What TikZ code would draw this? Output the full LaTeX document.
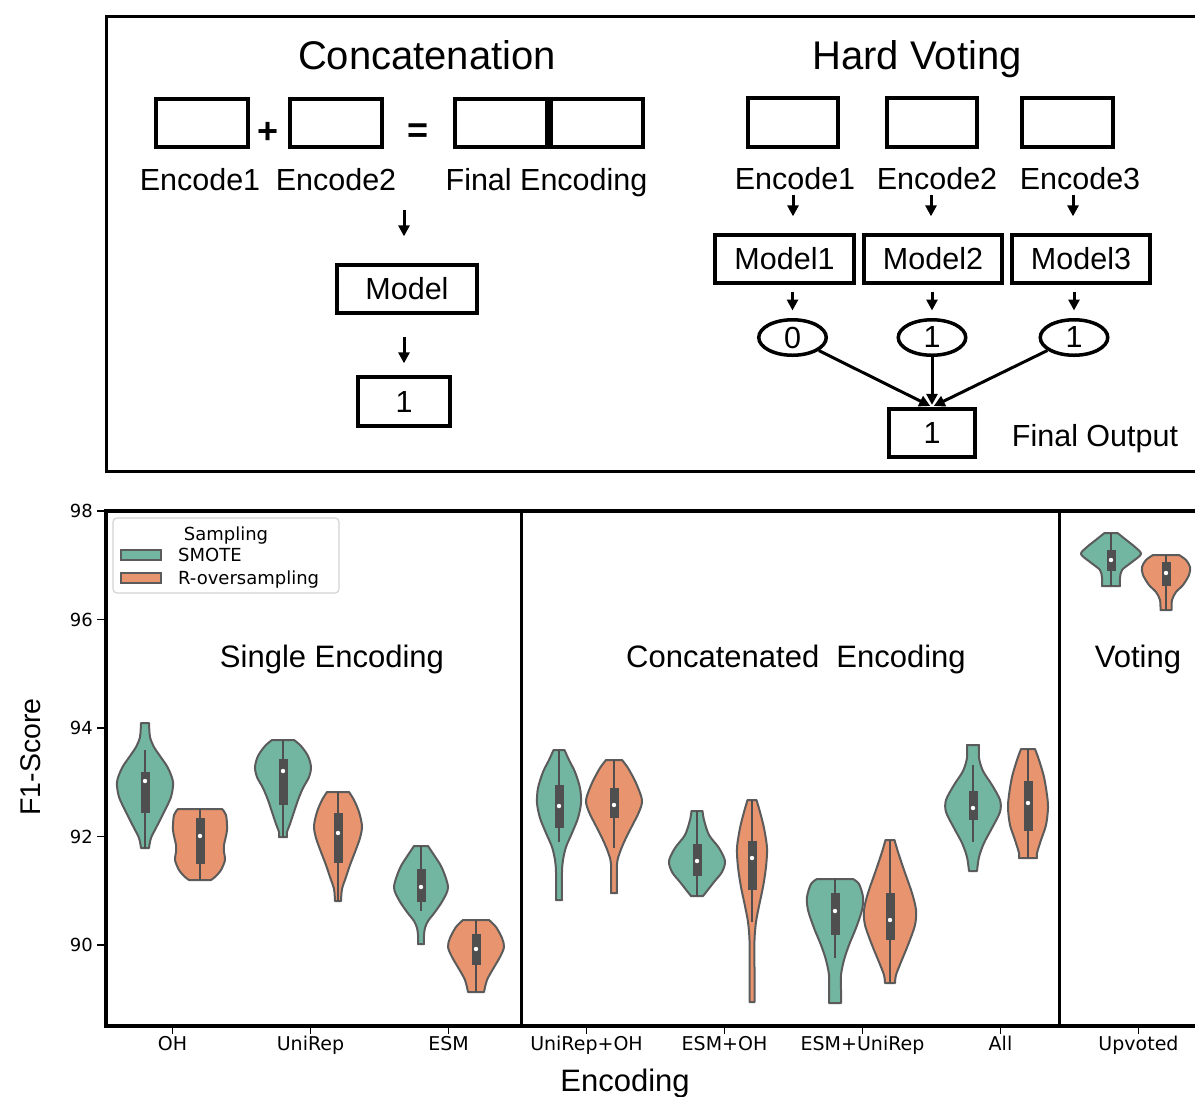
\documentclass[tikz,border=0pt]{standalone}
\usepackage{fontspec}
\setmainfont{Liberation Sans}
\newfontfamily\djv{DejaVu Sans}
\usetikzlibrary{arrows.meta,shapes.geometric}

\definecolor{vgreen}{HTML}{72B6A1}
\definecolor{vorange}{HTML}{E8956F}
\definecolor{vedge}{HTML}{5B5B5B}
\definecolor{vbox}{HTML}{4F4F4F}
\definecolor{leggray}{HTML}{D3D3D3}

\newcommand{\fsz}[1]{\fontsize{#1}{#1}\selectfont}

% violin: centre x, fill colour, top y, bottom y, right-hand profile (half width, y)
\newcommand{\violin}[5]{%
  \begin{scope}[shift={(#1,0)}]
    \foreach \s in {1,-1}{%
      \fill[#2, xscale=\s] (-1,#3) -- plot[smooth] coordinates {#5} -- (-1,#4) -- cycle;
    }
    \foreach \s in {1,-1}{%
      \draw[vedge, line width=2, line join=round, xscale=\s]
        (0,#3) -- plot[smooth] coordinates {#5} -- (0,#4);
    }
  \end{scope}}
% inner box: centre x, whisker top, whisker bottom, q3, q1, median
\newcommand{\vbx}[6]{%
  \draw[vbox, line width=2] (#1,#2) -- (#1,#3);
  \fill[vbox] (#1-4.5,#4) rectangle (#1+4.5,#5);
  \fill[white] (#1,#6) circle (2.2pt);}

\tikzset{
  frame/.style={line width=3},
  ebox/.style={draw, line width=3.8, inner sep=0, minimum width=92.5, minimum height=48.5, font=\fsz{30.5}},
  oval/.style={ellipse, draw, line width=3.5, inner sep=0, minimum width=67.5, minimum height=35.5, font=\fsz{30.5}},
  arr/.style={line width=3, -{Triangle[length=11pt,width=11pt]}},
  lbl/.style={inner sep=0, anchor=base, font=\fsz{30.5}},
  sym/.style={inner sep=0, font=\bfseries\fsz{36}},
  ttl/.style={inner sep=0, anchor=base, font=\fsz{40}},
  grp/.style={inner sep=0, anchor=base, font=\fsz{31}},
  tick/.style={line width=1.5},
  xtl/.style={inner sep=0, anchor=base, font=\djv\fsz{19}},
  ytl/.style={inner sep=0, anchor=east, font=\djv\fsz{18}},
  legt/.style={inner sep=0, anchor=base west, font=\djv\fsz{18}},
  patch/.style={draw=vedge, line width=1.5},
}

\begin{document}
\begin{tikzpicture}[x=1pt,y=-1pt]
\useasboundingbox (0,0) rectangle (1195,1096);
\fill[white] (0,0) rectangle (1195,1096);

% ---------------- schematic panel ----------------
\draw[frame] (106,16) rectangle (1215,471);

\node[ttl] (tcat) at (427,69) {Concatenation};
\node[ttl] (thv) at (917,69) {Hard Voting};

% concatenation
\node[ebox] (ce1) at (202,123) {};
\node[sym] (cplus) at (268,133) {+};
\node[ebox] (ce2) at (336,123) {};
\node[sym] (ceq) at (418,133) {=};
\node[ebox, minimum width=188.5] (cfin) at (549,123) {};
\draw[line width=8] (cfin.north) -- (cfin.south);
\node[lbl] (cl1) at (200,190) {Encode1};
\node[lbl] (cl2) at (336,190) {Encode2};
\node[lbl] (cl3) at (546.5,190) {Final Encoding};

\node[ebox, minimum width=140.5] (cmodel) at (407,289) {Model};
\node[ebox, minimum height=49.5] (cres) at (404,401.5) {1};

\coordinate (ca1) at (404,210);
\draw[arr, shorten >=26.5] (ca1) -- (ca1 |- cmodel.north);
\coordinate (ca2) at (404,337);
\draw[arr, shorten >=11.5] (ca2) -- (ca2 |- cres.north);

% hard voting
\node[ebox, minimum width=90.5] (he1) at (793,122.5) {};
\node[ebox, minimum width=90.5] (he2) at (932,122.5) {};
\node[ebox, minimum width=91.5] (he3) at (1067.5,122.5) {};
\node[lbl] (hl1) at (795,189) {Encode1};
\node[lbl] (hl2) at (937,189) {Encode2};
\node[lbl] (hl3) at (1080,189) {Encode3};

\node[ebox, minimum width=139.5] (hm1) at (784.5,259) {Model1};
\node[ebox, minimum width=138.5] (hm2) at (933,259) {Model2};
\node[ebox, minimum width=138.5] (hm3) at (1081,259) {Model3};

\coordinate (hs1) at (793,195);
\coordinate (hs2) at (931,195);
\coordinate (hs3) at (1073,195);
\draw[arr, shorten >=16.5] (hs1) -- (hs1 |- hm1.north);
\draw[arr, shorten >=16.5] (hs2) -- (hs2 |- hm2.north);
\draw[arr, shorten >=16.5] (hs3) -- (hs3 |- hm3.north);

\node[oval] (ov0) at (792.5,337.5) {0};
\node[oval] (ov1) at (932,337.5) {1};
\node[oval] (ov2) at (1074,337.5) {1};

\draw[arr, shorten <=6.5, shorten >=7.5] (hm1.south -| ov0.north) -- (ov0.north);
\draw[arr, shorten <=6.5, shorten >=7.5] (hm2.south -| ov1.north) -- (ov1.north);
\draw[arr, shorten <=6.5, shorten >=7.5] (hm3.south -| ov2.north) -- (ov2.north);

\node[ebox, minimum width=85.5] (fin) at (932,433) {1};
\node[lbl] (fout) at (1095,446) {Final Output};

\draw[arr, shorten >=2] (ov0) -- (fin.north);
\draw[arr, shorten >=2] (ov1) -- (fin.north);
\draw[arr, shorten >=2] (ov2) -- (fin.north);

% ---------------- violin panel ----------------
\violin{145}{vgreen}{723}{848}{(4,723) (5,737) (9,747) (15,756) (23,768) (28,782) (26,797) (19,812) (12,826) (6,838) (4,848)}
\vbx{145}{750}{848}{772}{813}{781}
\violin{200}{vorange}{809}{880}{(22,809) (26,815) (27,830) (24,845) (24,852) (25,860) (21,870) (15,877) (11,880)}
\vbx{200}{809}{880}{818}{864}{836}

\violin{283}{vgreen}{740}{837}{(11,740) (18,746) (25,756) (28,767) (26,777) (20,788) (15,800) (11,812) (7,824) (4,832) (4,837)}
\vbx{283}{740}{837}{759}{805}{771}
\violin{338}{vorange}{792}{901}{(11,792) (16,800) (21,812) (24,826) (22,838) (17,852) (12,865) (8,877) (4,889) (3,901)}
\vbx{338}{792}{901}{813}{863}{833}

\violin{421}{vgreen}{846}{944}{(7,846) (13,855) (21,868) (27,887) (22,900) (14,912) (7,921) (4,928) (3,935) (3,944)}
\vbx{421}{846}{911}{869}{902}{887}
\violin{476}{vorange}{920}{992}{(13,920) (20,927) (26,938) (28,947) (24,957) (17,969) (11,980) (8,992)}
\vbx{476}{920}{992}{934}{965}{949}

\violin{559}{vgreen}{750}{900}{(5.5,750) (10,760) (16,772) (21,788) (22,803) (19,818) (13,833) (7,847) (4,860) (3,872) (3,900)}
\vbx{559}{750}{842}{785}{828}{806}
\violin{614}{vorange}{760}{893}{(8,760) (14,768) (22,783) (28,800) (25,812) (18,826) (11,840) (6,852) (3,864) (3,893)}
\vbx{614}{760}{848}{788}{818}{805}

\violin{697}{vgreen}{811}{896}{(5.5,811) (7,820) (12,835) (22,848) (28,861) (25,872) (17,882) (10,891) (6,896)}
\vbx{697}{811}{896}{844}{876}{861}
\violin{752}{vorange}{800}{1002}{(4.5,800) (8,812) (12,828) (15,848) (14,867) (11,887) (7,906) (4,922) (2.5,940) (2.5,970) (2.5,1002)}
\vbx{752}{800}{922}{841}{890}{858}

\violin{835}{vgreen}{879}{1003}{(18,879) (24,884) (28,897) (27,910) (21,928) (14,945) (9,960) (6,975) (6,990) (6,1003)}
\vbx{835}{879}{958}{893}{935}{911}
\violin{890}{vorange}{840}{983}{(4.5,840) (8,852) (14,870) (22,893) (26,910) (25,925) (18,945) (11,962) (6,975) (5,983)}
\vbx{890}{840}{983}{893}{940}{920}

\violin{973}{vgreen}{745}{871}{(6,745) (6,758) (10,771) (19,785) (27,800) (27,812) (19,828) (11,843) (6,857) (4,871)}
\vbx{973}{765}{842}{791}{820}{808}
\violin{1028}{vorange}{749}{858}{(7,749) (11,760) (16,777) (19,795) (20,808) (18,825) (13,840) (9,853) (9,858)}
\vbx{1028}{749}{858}{781}{831}{803}

\violin{1111}{vgreen}{533}{586}{(6.5,533) (14,539) (24,547) (30,554) (21,562) (11,570) (9,578) (9,586)}
\vbx{1111}{533}{586}{550}{571}{560}
\violin{1166}{vorange}{555}{610}{(13,555) (20,560) (24,567) (23,575) (17,585) (10,592) (6,600) (5.5,610)}
\vbx{1166}{555}{610}{562}{586}{573}

% axes frame and group separators
\draw[line width=4] (104,511) -- (1215,511);
\draw[line width=4] (104,1026) -- (1215,1026);
\draw[line width=4] (106,509) -- (106,1028);
\draw[line width=3] (521,511) -- (521,1026);
\draw[line width=3] (1059,511) -- (1059,1026);

% y axis
\foreach \v/\yy in {98/511,96/619.5,94/728,92/836.5,90/945}{
  \draw[tick] (97,\yy) -- (105,\yy);
  \node[ytl] (yt\v) at (93,\yy) {\v};
}
\node[inner sep=0, rotate=90, font=\fsz{28.5}] (ylab) at (31,757) {F1-Score};

% x axis
\foreach \xx/\t [count=\i] in {172.5/OH,310.5/UniRep,448.5/ESM,586.5/UniRep+OH,724.5/ESM+OH,862.5/ESM+UniRep,1000.5/All,1138.5/Upvoted}{
  \draw[tick] (\xx,1027) -- (\xx,1034);
  \node[xtl] (xt\i) at (\xx,1050) {\t};
}
\node[inner sep=0, anchor=base, font=\fsz{31}] (xlab) at (625,1091) {Encoding};

% group titles
\node[grp] (g1) at (332,667) {Single Encoding};
\node[grp] (g2) at (796,667) {Concatenated\ \ Encoding};
\node[grp] (g3) at (1138,667) {Voting};

% legend
\node[draw=leggray, fill=white, line width=1.2, rounded corners=4pt, inner sep=0,
      minimum width=226, minimum height=75] (leg) at (226,555.5) {};
\node[inner sep=0, anchor=base, font=\djv\fsz{18}] (legt) at (226,540) {Sampling};
\draw[patch, fill=vgreen] (121,550) rectangle (161,560);
\node[legt] (leg1) at (178,561) {SMOTE};
\draw[patch, fill=vorange] (121,573) rectangle (161,583);
\node[legt] (leg2) at (178,584) {R-oversampling};
\end{tikzpicture}
\end{document}
